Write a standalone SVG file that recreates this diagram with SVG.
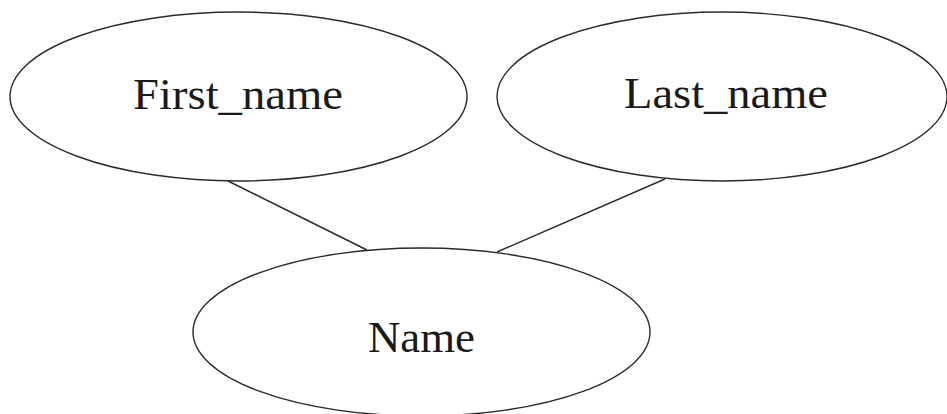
<svg xmlns="http://www.w3.org/2000/svg" width="947" height="414" viewBox="0 0 947 414">
  <style>
    .shape { fill: #ffffff; stroke: #2a2a2a; stroke-width: 1.4; }
    .edge { stroke: #2a2a2a; stroke-width: 1.4; fill: none; }
    .label { font-family: "Liberation Serif", "DejaVu Serif", serif; font-size: 45px; fill: #1a1a1a; text-anchor: middle; }
  </style>
  <rect width="947" height="414" fill="#ffffff"/>
  <g id="connectors">
    <line class="edge" x1="228" y1="181" x2="367" y2="250"/>
    <line class="edge" x1="665" y1="179" x2="497" y2="252"/>
  </g>
  <g id="first_name">
    <ellipse class="shape" cx="238.5" cy="96.5" rx="228.5" ry="84.5"/>
    <text class="label" x="238" y="109" textLength="210" lengthAdjust="spacingAndGlyphs">First_name</text>
  </g>
  <g id="last_name">
    <ellipse class="shape" cx="722" cy="96.5" rx="225" ry="84.5"/>
    <text class="label" x="726" y="108" textLength="204" lengthAdjust="spacingAndGlyphs">Last_name</text>
  </g>
  <g id="name">
    <ellipse class="shape" cx="421.5" cy="332" rx="228.5" ry="84"/>
    <text class="label" x="421.5" y="352" textLength="107" lengthAdjust="spacingAndGlyphs">Name</text>
  </g>
</svg>
